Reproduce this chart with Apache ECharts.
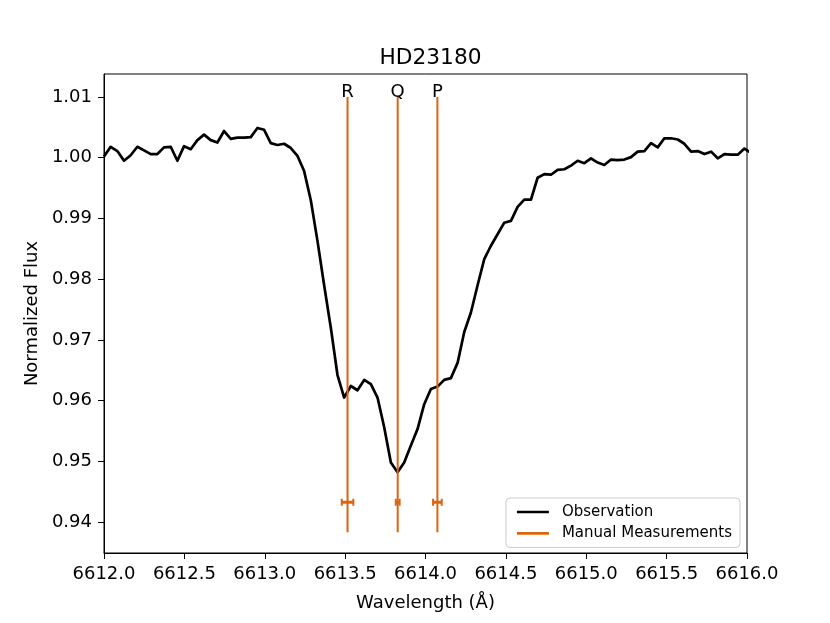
<!DOCTYPE html>
<html>
<head>
<meta charset="utf-8">
<script src="https://cdn.jsdelivr.net/npm/echarts@6/dist/echarts.min.js"></script>
<style>html,body{margin:0;padding:0;background:#fff}#c{width:830px;height:623px}</style>
</head>
<body>
<div id="c"></div>
<script>
// ---- data ----
const wavelength = [
 6612.0000,6612.0415,6612.0830,6612.1245,6612.1660,6612.2075,6612.2490,6612.2905,6612.3320,6612.3735,
 6612.4150,6612.4565,6612.4980,6612.5395,6612.5810,6612.6225,6612.6640,6612.7055,6612.7470,6612.7885,
 6612.8300,6612.8715,6612.9130,6612.9545,6612.9960,6613.0375,6613.0790,6613.1205,6613.1620,6613.2035,
 6613.2450,6613.2865,6613.3280,6613.3695,6613.4110,6613.4525,6613.4940,6613.5355,6613.5770,6613.6185,
 6613.6600,6613.7015,6613.7430,6613.7845,6613.8260,6613.8675,6613.9090,6613.9505,6613.9920,6614.0335,
 6614.0750,6614.1165,6614.1580,6614.1995,6614.2410,6614.2825,6614.3240,6614.3655,6614.4070,6614.4485,
 6614.4900,6614.5315,6614.5730,6614.6145,6614.6560,6614.6975,6614.7390,6614.7805,6614.8220,6614.8635,
 6614.9050,6614.9465,6614.9880,6615.0295,6615.0710,6615.1125,6615.1540,6615.1955,6615.2370,6615.2785,
 6615.3200,6615.3615,6615.4030,6615.4445,6615.4860,6615.5275,6615.5690,6615.6105,6615.6520,6615.6935,
 6615.7350,6615.7765,6615.8180,6615.8595,6615.9010,6615.9425,6615.9840,6616.0255
];
const flux = [
 1.0002,1.0018,1.0011,0.9995,1.0004,1.0018,1.0012,1.0006,1.0006,1.0017,
 1.0018,0.9995,1.0019,1.0014,1.0029,1.0038,1.0029,1.0025,1.0044,1.0031,
 1.0033,1.0033,1.0034,1.0049,1.0046,1.0024,1.0021,1.0023,1.0016,1.0003,
 0.9978,0.9930,0.9863,0.9790,0.9720,0.9642,0.9605,0.9624,0.9617,0.9634,
 0.9627,0.9605,0.9556,0.9498,0.9482,0.9498,0.9526,0.9553,0.9594,0.9619,
 0.9623,0.9634,0.9637,0.9662,0.9713,0.9745,0.9790,0.9833,0.9855,0.9874,
 0.9893,0.9896,0.9919,0.9931,0.9931,0.9967,0.9973,0.9972,0.9980,0.9981,
 0.9987,0.9995,0.9991,0.9999,0.9992,0.9988,0.9997,0.9996,0.9997,1.0001,
 1.0010,1.0011,1.0024,1.0017,1.0032,1.0032,1.0030,1.0023,1.0010,1.0011,
 1.0006,1.0010,0.9999,1.0006,1.0005,1.0005,1.0015,1.0008
];
const measureNames = ['R', 'Q', 'P'];
const measureWave = [6613.515, 6613.827, 6614.074];
const measureErr = [0.036, 0.012, 0.027];
const measureTop = [1.01, 1.01, 1.01];
const measureBottom = [0.9383, 0.9383, 0.9383];
const measureErrY = [0.94325, 0.94325, 0.94325];
const yTicks = [0.94, 0.95, 0.96, 0.97, 0.98, 0.99, 1.00, 1.01];

// ---- chart ----
const ORANGE = '#dc6410';
const FONT = 'DejaVu Sans';
const chart = echarts.init(document.getElementById('c'), null, {renderer: 'canvas'});
const obsData = wavelength.map((w, i) => [w, flux[i]]);
const measData = measureWave.map((w, i) => [w, measureTop[i], measureBottom[i], measureErr[i], measureErrY[i], measureNames[i]]);

chart.setOption({
  animation: false,
  backgroundColor: '#fff',
  textStyle: {fontFamily: FONT},
  title: {
    text: 'HD23180', left: 425.5, top: 42, textAlign: 'center',
    textStyle: {fontFamily: FONT, fontSize: 21.7, fontWeight: 'normal', color: '#000'}
  },
  legend: {
    orient: 'vertical', right: 90, top: 498,
    padding: [6.5, 8, 6.5, 11], itemGap: 6.4, itemWidth: 32, itemHeight: 2.6,
    borderColor: '#cccccc', borderWidth: 1, borderRadius: 4, backgroundColor: 'rgba(255,255,255,0.8)',
    textStyle: {fontFamily: FONT, fontSize: 15, color: '#000', padding: [0, 0, 0, 8]},
    data: [
      {name: 'Observation', icon: 'rect', itemStyle: {color: '#000'}},
      {name: 'Manual Measurements', icon: 'rect', itemStyle: {color: ORANGE}}
    ]
  },
  grid: {left: 104, right: 83, top: 74, bottom: 70, show: true, borderColor: '#000', borderWidth: 1, backgroundColor: 'transparent'},
  xAxis: {
    type: 'value', min: 6612, max: 6616, interval: 0.5,
    name: 'Wavelength (Å)', nameLocation: 'middle', nameGap: 41,
    nameTextStyle: {fontFamily: FONT, fontSize: 18, color: '#000'},
    axisLine: {show: true, onZero: false, lineStyle: {color: '#000', width: 1}},
    axisTick: {show: true, length: 6, inside: false, lineStyle: {color: '#000', width: 1}},
    axisLabel: {fontFamily: FONT, fontSize: 18, color: '#000', margin: 12, formatter: v => v.toFixed(1)},
    splitLine: {show: false}
  },
  yAxis: {
    type: 'value', min: 0.93489, max: 1.01379,
    name: 'Normalized Flux', nameLocation: 'middle', nameGap: 61, nameRotate: 90,
    nameTextStyle: {fontFamily: FONT, fontSize: 18, color: '#000'},
    axisLine: {show: true, onZero: false, lineStyle: {color: '#000', width: 1}},
    axisTick: {show: true, length: 6, inside: false, customValues: yTicks, lineStyle: {color: '#000', width: 1}},
    axisLabel: {fontFamily: FONT, fontSize: 18, color: '#000', margin: 12, customValues: yTicks, formatter: v => v.toFixed(2)},
    splitLine: {show: false}
  },
  series: [
    {
      name: 'Observation', type: 'line', data: obsData, showSymbol: false, symbol: 'none',
      lineStyle: {color: '#000', width: 2.7, join: 'round'}, itemStyle: {color: '#000'},
      clip: true, z: 2
    },
    {
      name: 'Manual Measurements', type: 'custom', data: measData, z: 3, clip: false,
      itemStyle: {color: ORANGE},
      renderItem: function (params, api) {
        const x = api.value(0);
        const top = api.coord([x, api.value(1)]);
        const bot = api.coord([x, api.value(2)]);
        const err = api.value(3);
        const ey = api.value(4);
        const l = api.coord([x - err, ey]);
        const r = api.coord([x + err, ey]);
        const style = {stroke: ORANGE, lineWidth: 2};
        return {
          type: 'group',
          children: [
            {type: 'line', shape: {x1: top[0], y1: top[1], x2: bot[0], y2: bot[1]}, style: style},
            {type: 'line', shape: {x1: l[0], y1: l[1], x2: r[0], y2: r[1]}, style: {stroke: ORANGE, lineWidth: 3}},
            {type: 'line', shape: {x1: l[0], y1: l[1] - 3.5, x2: l[0], y2: l[1] + 3.5}, style: style},
            {type: 'line', shape: {x1: r[0], y1: r[1] - 3.5, x2: r[0], y2: r[1] + 3.5}, style: style},
            {type: 'text', x: top[0], y: top[1] + 4,
             style: {text: api.value(5), fontFamily: FONT, fontSize: 18, fill: '#000', align: 'center', verticalAlign: 'bottom'}}
          ]
        };
      }
    }
  ]
});
</script>
</body>
</html>
